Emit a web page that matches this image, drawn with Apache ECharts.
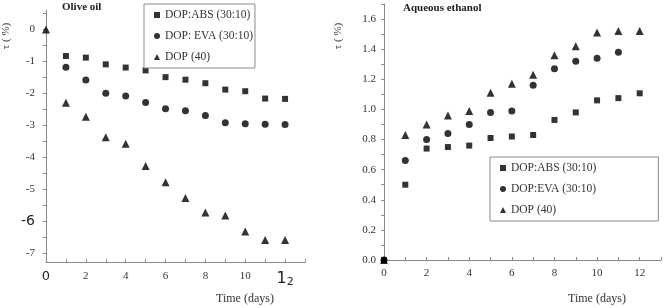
<!DOCTYPE html>
<html><head><meta charset="utf-8">
<script src="https://cdn.jsdelivr.net/npm/echarts@6/dist/echarts.min.js"></script>
<style>html,body{margin:0;padding:0;background:#fff}#c{width:668px;height:308px}</style>
</head><body><div id="c"></div>
<script>
// ---- data ----
const days = [0,1,2,3,4,5,6,7,8,9,10,11,12];
// Olive oil (left)
const oliveABS = [null,-0.83,-0.88,-1.09,-1.19,-1.28,-1.49,-1.57,-1.68,-1.88,-1.93,-2.16,-2.17];
const oliveEVA = [null,-1.18,-1.58,-1.99,-2.08,-2.28,-2.48,-2.54,-2.69,-2.92,-2.95,-2.96,-2.97];
const oliveDOP = [0,-2.29,-2.73,-3.37,-3.57,-4.27,-4.78,-5.27,-5.72,-5.82,-6.32,-6.58,-6.58];
// Aqueous ethanol (right)
const ethABS = [0,0.50,0.74,0.75,0.76,0.81,0.82,0.83,0.93,0.98,1.06,1.075,1.107];
const ethEVA = [0,0.66,0.80,0.84,0.90,0.98,0.99,1.16,1.27,1.32,1.34,1.38,null];
const ethDOP = [0,0.83,0.90,0.96,0.99,1.11,1.17,1.23,1.36,1.42,1.51,1.52,1.52];
// tick labels
const xLabels = [0,2,4,6,8,10,12];
const leftYLabels = [-7,-6,-5,-4,-3,-2,-1,0];
const rightYLabels = [0,0.2,0.4,0.6,0.8,1.0,1.2,1.4,1.6];
const leftNames = ['DOP:ABS (30:10)','DOP: EVA (30:10)','DOP (40)'];
const rightNames = ['DOP:ABS (30:10)','DOP:EVA (30:10)','DOP (40)'];

const pairs = (vals) => days.map((d,i)=>[d, vals[i]]).filter(p=>p[1]!==null);
const F = 'Liberation Serif, Times New Roman, serif';
const axisCol = '#8a8a8a';
const txtCol = '#333';

const leftXTicks = [], rightXTicks = [];
for (let i=0;i<=13;i++){ leftXTicks.push(i); rightXTicks.push(i); }
const leftYTicks = []; for (let v=-14; v<=1; v++) leftYTicks.push(v/2);
const rightYTicks = []; for (let v=0; v<=17; v++) rightYTicks.push(v/10);

function xAxisCfg(idx, big){
  return {
    type:'value', gridIndex: idx, min:0, max:13,
    axisLine:{show:true, onZero:false, lineStyle:{color:axisCol}},
    axisTick:{show:true, inside:true, length:3, customValues: idx===0?leftXTicks:rightXTicks, lineStyle:{color:axisCol}},
    splitLine:{show:false},
    axisLabel:{customValues:xLabels, margin:8, color:txtCol, fontFamily:F, fontSize:11,
      formatter: big ? (v)=> v===0 ? '{z|0}' : (v===12 ? '{a|1}{b|2}' : String(v)) : (v)=>String(v),
      rich: {z:{fontFamily:'DejaVu Sans',fontSize:13,color:'#222'}, a:{fontFamily:'DejaVu Sans',fontSize:16,color:'#222'}, b:{fontFamily:'DejaVu Sans',fontSize:11,color:'#222',padding:[6,0,0,0]}}
    }
  };
}
function yAxisCfg(idx){
  const left = idx===0;
  return {
    type:'value', gridIndex: idx,
    min: left ? -7.28 : 0, max: left ? 0.6 : 1.7,
    axisLine:{show:true, onZero:false, lineStyle:{color:axisCol}},
    axisTick:{show:true, inside:false, length:3, customValues: left?leftYTicks:rightYTicks, lineStyle:{color:axisCol}},
    splitLine:{show:false},
    axisLabel:{customValues: left?leftYLabels:rightYLabels, margin: left?11:8, color:txtCol, fontFamily:F, fontSize:11,
      formatter: left ? (v)=> v===-6 ? '{s|-6}' : String(v) : (v)=>v.toFixed(1),
      rich:{s:{fontFamily:'DejaVu Sans',fontSize:14,color:'#222'}}
    }
  };
}
const sym = ['rect','circle','triangle'];
const symSize = [6,7,8];
function mk(name, vals, k, idx){
  return {type:'scatter', name, xAxisIndex:idx, yAxisIndex:idx, data:pairs(vals),
    symbol:sym[k], symbolSize:symSize[k], itemStyle:{color:'#000'}, silent:true};
}
function legendCfg(names, left, top, padR){
  return {
    show:true, orient:'vertical', left, top, data:names.map((n,k)=>({name:n, icon:sym[k]})),
    itemWidth:6, itemHeight:6, itemGap:7, padding:[4,padR,4,10],
    borderColor:'#8a8a8a', borderWidth:1, backgroundColor:'#fff', selectedMode:false,
    textStyle:{fontFamily:F, fontSize:11.5, color:txtCol, lineHeight:14}
  };
}
const chart = echarts.init(document.getElementById('c'), null, {renderer:'canvas'});
chart.setOption({
  backgroundColor:'#fff',
  animation:false,
  grid:[
    {left:46, top:10.3, width:259, height:252},
    {left:384, top:4, width:277, height:256}
  ],
  xAxis:[xAxisCfg(0,true), xAxisCfg(1,false)],
  yAxis:[yAxisCfg(0), yAxisCfg(1)],
  legend:[legendCfg(leftNames,144,4,2), legendCfg(rightNames,490,157,62)],
  series:[
    mk(leftNames[0], oliveABS, 0, 0),
    mk(leftNames[1], oliveEVA, 1, 0),
    mk(leftNames[2], oliveDOP, 2, 0),
    mk(rightNames[0], ethABS, 0, 1),
    mk(rightNames[1], ethEVA, 1, 1),
    mk(rightNames[2], ethDOP, 2, 1)
  ],
  graphic:[
    {type:'text', left:62, top:2, style:{text:'Olive oil', fontFamily:F, fontWeight:'bold', fontSize:11, fill:'#222'}},
    {type:'text', left:403, top:3, style:{text:'Aqueous ethanol', fontFamily:F, fontWeight:'bold', fontSize:11, fill:'#222'}},
    {type:'text', left:216, top:293, style:{text:'Time (days)', fontFamily:F, fontSize:12, fill:txtCol}},
    {type:'text', left:568, top:293, style:{text:'Time (days)', fontFamily:F, fontSize:12, fill:txtCol}},
    {type:'text', x:6, y:36, rotation:Math.PI/2, style:{text:'τ ( %)', fontFamily:F, fontSize:11, fill:txtCol, textAlign:'center', textVerticalAlign:'middle'}},
    {type:'text', x:338, y:36, rotation:Math.PI/2, style:{text:'τ ( %)', fontFamily:F, fontSize:11, fill:txtCol, textAlign:'center', textVerticalAlign:'middle'}}
  ]
});
</script></body></html>
